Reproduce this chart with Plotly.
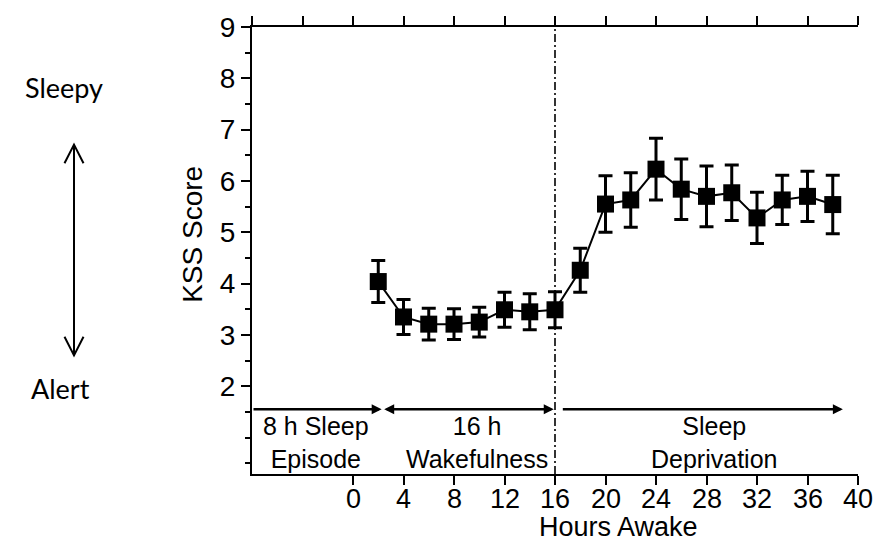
import plotly.graph_objects as go

# ---- data ----
hours = [2, 4, 6, 8, 10, 12, 14, 16, 18, 20, 22, 24, 26, 28, 30, 32, 34, 36, 38]
kss = [4.04, 3.35, 3.21, 3.21, 3.25, 3.49, 3.45, 3.49, 4.26, 5.55, 5.63, 6.23,
       5.84, 5.70, 5.77, 5.28, 5.63, 5.70, 5.54]
kss_err = [0.41, 0.34, 0.31, 0.30, 0.29, 0.34, 0.35, 0.35, 0.43, 0.55, 0.53, 0.60,
           0.59, 0.59, 0.54, 0.50, 0.48, 0.49, 0.57]
x_ticks = [0, 4, 8, 12, 16, 20, 24, 28, 32, 36, 40]
x_tick_labels = ["0", "4", "8", "12", "16", "20", "24", "28", "32", "36", "40"]
x_top_ticks = [-8, -4, 0, 4, 8, 12, 16, 20, 24, 28, 32, 36, 40]
y_ticks = [2, 3, 4, 5, 6, 7, 8, 9]
x_range = [-8, 40]
y_range = [0.29, 9]
boundary_hour = 16
arrow_level = 1.55
phases = [
    {"text": "8 h Sleep<br>Episode", "x": -2.9, "start": -8, "end": 2.27, "both": False},
    {"text": "16 h<br>Wakefulness", "x": 9.8, "start": 2.35, "end": 15.9, "both": True},
    {"text": "Sleep<br>Deprivation", "x": 28.6, "start": 16.5, "end": 38.8, "both": False},
]

FONT = "Liberation Sans, Arial, sans-serif"
SIDE_FONT = "Lato, Open Sans, sans-serif"
W, H = 887, 546
L, R, T, B = 252, 29, 18, 72

fig = go.Figure()
fig.add_trace(go.Scatter(
    x=hours, y=kss, mode="lines+markers",
    line=dict(color="black", width=2),
    marker=dict(symbol="square", size=17, color="black"),
    error_y=dict(type="data", array=kss_err, visible=True, color="black",
                 thickness=3, width=7),
    showlegend=False, hoverinfo="skip",
))
# invisible trace to carry the top axis
fig.add_trace(go.Scatter(x=x_range, y=[None, None], xaxis="x2", yaxis="y",
                         mode="lines", showlegend=False, hoverinfo="skip"))

def px_to_paper_x(px):
    return (px - L) / (W - L - R)

def px_to_paper_y(py):
    return (H - B - py) / (H - B - T)

annotations = []
for ph in phases:
    annotations.append(dict(
        x=ph["x"], y=0.9, xref="x", yref="y", text=ph["text"], showarrow=False,
        font=dict(family=FONT, size=25, color="black"), align="center",
        xanchor="center", yanchor="middle"))
    annotations.append(dict(
        x=ph["end"], y=arrow_level, ax=ph["start"], ay=arrow_level,
        xref="x", yref="y", axref="x", ayref="y", text="", showarrow=True,
        arrowhead=2, arrowsize=0.8, arrowwidth=2.5, arrowcolor="black",
        arrowside="end+start" if ph["both"] else "end",
        startarrowhead=2, startarrowsize=0.8, standoff=0, startstandoff=0))

# bottom tick labels placed close to the axis, as in the source figure
for xv, lab in zip(x_ticks, x_tick_labels):
    annotations.append(dict(
        x=xv, y=px_to_paper_y(499), xref="x", yref="paper", text=lab,
        showarrow=False, xanchor="center", yanchor="middle",
        font=dict(family=FONT, size=27, color="black")))

annotations += [
    dict(x=px_to_paper_x(618), y=px_to_paper_y(528), xref="paper", yref="paper",
         text="Hours Awake", showarrow=False, xanchor="center", yanchor="middle",
         font=dict(family=FONT, size=27, color="black")),
    dict(x=px_to_paper_x(193), y=px_to_paper_y(230), xref="paper", yref="paper",
         text="KSS Score", showarrow=False, textangle=-90, xanchor="center",
         yanchor="middle", font=dict(family=FONT, size=28, color="black")),
    dict(x=px_to_paper_x(64), y=px_to_paper_y(80), xref="paper", yref="paper",
         text="Sleepy", showarrow=False, xanchor="center", yanchor="middle",
         font=dict(family=SIDE_FONT, size=27, color="black")),
    dict(x=px_to_paper_x(60), y=px_to_paper_y(387), xref="paper", yref="paper",
         text="Alert", showarrow=False, xanchor="center", yanchor="middle",
         font=dict(family=SIDE_FONT, size=27, color="black")),
]

# Sleepy/Alert double arrow (decoration)
ax_px, top_px, bot_px, arm_dx, arm_dy = 74, 138, 353, 9.5, 19
axp = px_to_paper_x(ax_px)
shapes = [
    dict(type="line", xref="paper", yref="paper", x0=axp, x1=axp,
         y0=px_to_paper_y(top_px), y1=px_to_paper_y(bot_px),
         line=dict(color="black", width=2)),
    dict(type="path", xref="paper", yref="paper",
         path=f"M{px_to_paper_x(ax_px - arm_dx)},{px_to_paper_y(top_px + arm_dy)} "
              f"L{axp},{px_to_paper_y(top_px)} "
              f"L{px_to_paper_x(ax_px + arm_dx)},{px_to_paper_y(top_px + arm_dy)}",
         line=dict(color="black", width=2)),
    dict(type="path", xref="paper", yref="paper",
         path=f"M{px_to_paper_x(ax_px - arm_dx)},{px_to_paper_y(bot_px - arm_dy)} "
              f"L{axp},{px_to_paper_y(bot_px)} "
              f"L{px_to_paper_x(ax_px + arm_dx)},{px_to_paper_y(bot_px - arm_dy)}",
         line=dict(color="black", width=2)),
    # dash-dot boundary at 16 h
    dict(type="line", xref="x", yref="paper", x0=boundary_hour, x1=boundary_hour,
         y0=0, y1=1, line=dict(color="black", width=1.6, dash="8px,3px,2px,3px")),
]

fig.update_layout(
    width=W, height=H,
    margin=dict(l=L, r=R, t=T, b=B, pad=0),
    paper_bgcolor="white", plot_bgcolor="white",
    font=dict(family=FONT, color="black"),
    xaxis=dict(range=x_range, tickmode="array", tickvals=x_ticks,
               showticklabels=False,
               ticks="outside", ticklen=9, tickwidth=2, tickcolor="black",
               showline=True, linecolor="black", linewidth=2,
               showgrid=False, zeroline=False),
    xaxis2=dict(range=x_range, overlaying="x", side="top", anchor="y",
                tickmode="array", tickvals=x_top_ticks, showticklabels=False,
                ticks="outside", ticklen=9, tickwidth=2, tickcolor="black",
                showline=True, linecolor="black", linewidth=2,
                showgrid=False, zeroline=False),
    yaxis=dict(range=y_range, tickmode="array", tickvals=y_ticks,
               ticks="outside", ticklen=9, tickwidth=2, tickcolor="black",
               showline=True, linecolor="black", linewidth=2,
               showgrid=False, zeroline=False,
               tickfont=dict(family=FONT, size=28, color="black"),
               minor=dict(tickmode="linear", tick0=0, dtick=0.5, ticks="outside",
                          ticklen=5, tickwidth=2, tickcolor="black", showgrid=False)),
    annotations=annotations,
    shapes=shapes,
)

fig.write_html("out.html", config={"displayModeBar": False})
